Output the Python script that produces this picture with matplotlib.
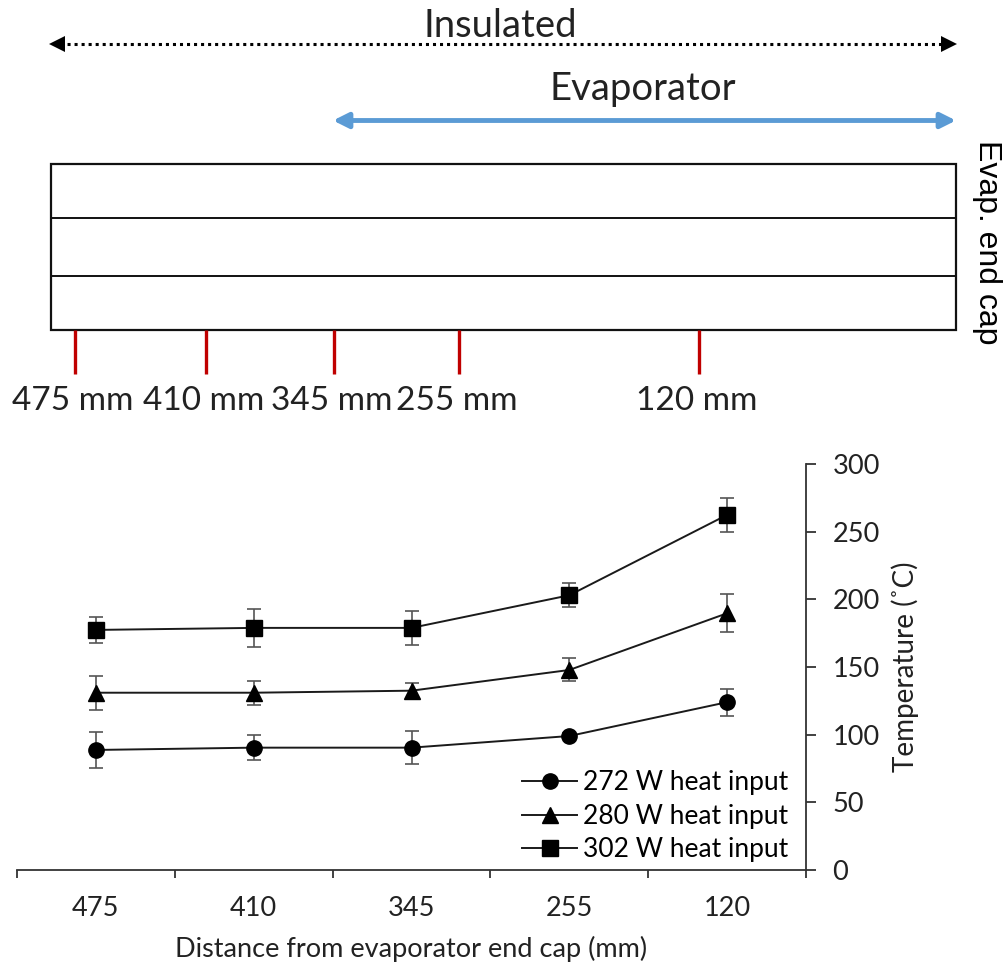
import numpy as np
import matplotlib.pyplot as plt
from matplotlib.patches import Rectangle

plt.rcParams['font.family'] = ['Lato', 'DejaVu Sans']

# temperature profile along the heat pipe (mean and spread per thermocouple)
distances = ['475', '410', '345', '255', '120']
temp_272 = [88.7, 90.4, 90.4, 99.0, 124.0]
err_272 = [13.0, 9.0, 12.0, 2.0, 10.0]
temp_280 = [131.0, 131.0, 132.5, 147.8, 189.7]
err_280 = [12.6, 9.0, 6.0, 8.5, 14.0]
temp_302 = [177.4, 178.9, 178.9, 203.0, 262.4]
err_302 = [9.6, 14.0, 12.5, 8.7, 12.5]

# schematic of the pipe: thermocouple labels and where they sit on the sketch
tc_labels = ['475 mm', '410 mm', '345 mm', '255 mm', '120 mm']
tc_pos = [75, 206, 334, 459, 699]

W, H = 1007, 969
fig = plt.figure(figsize=(W / 100, H / 100), dpi=100)

################################ schematic ################################
sk = fig.add_axes([0, 0, 1, 1])
sk.set_xlim(0, W) ; sk.set_ylim(H, 0) ; sk.axis('off')

pipe_l, pipe_r, pipe_t, pipe_b = 51, 956, 164, 330
sk.add_patch(Rectangle((pipe_l, pipe_t), pipe_r - pipe_l, pipe_b - pipe_t,
                       fill=False, ec='#111111', lw=1.6))
for yy in [218, 276]:
    sk.plot([pipe_l, pipe_r], [yy, yy], color='#111111', lw=1.4)

for xx, lab in zip(tc_pos, tc_labels):
    sk.plot([xx, xx], [pipe_b, 374], color='#c00000', lw=2.4, solid_capstyle='butt')
    sk.text(xx - 2, 410, lab, ha='center', va='baseline', fontsize=24, color='#222222')

# insulated length (dotted, black heads)
sk.plot([60, 946], [43.5, 43.5], color='black', lw=2.2, linestyle=(0, (1, 1.3)))
sk.plot([57], [43.5], marker='<', color='black', ms=11, mew=0)
sk.plot([949], [43.5], marker='>', color='black', ms=11, mew=0)
sk.text(500, 37, 'Insulated', ha='center', va='baseline', fontsize=27.5, color='#222222')

# evaporator length (blue)
sk.annotate('', xy=(956, 120.5), xytext=(333, 120.5),
            arrowprops=dict(arrowstyle='<|-|>,head_length=0.9,head_width=0.45',
                            color='#5b9bd5', lw=3.5, shrinkA=0, shrinkB=0))
sk.text(643, 100, 'Evaporator', ha='center', va='baseline', fontsize=27.5, color='#222222')

sk.text(987, 242, 'Evap. end cap', rotation=270, ha='center', va='center',
        fontsize=23, family='Liberation Sans', color='black')

################################ temperature chart ################################
ax = fig.add_axes([17 / W, (H - 870) / H, (806 - 17) / W, (870 - 464) / H])
x = np.arange(len(distances))

series = [(temp_272, err_272, 'o', 11, '272 W heat input'),
          (temp_280, err_280, '^', 12, '280 W heat input'),
          (temp_302, err_302, 's', 11, '302 W heat input')]
for vals, errs, mk, ms, lab in series:
    ax.errorbar(x, vals, yerr=errs, fmt='none', ecolor='#555555', elinewidth=1.2,
                capsize=5, capthick=1.2, zorder=2)
    ax.plot(x, vals, color='#1a1a1a', lw=1.4, marker=mk, ms=ms, mfc='black',
            mec='black', label=lab, zorder=3)

ax.set_xlim(-0.5, len(distances) - 0.5)
ax.set_ylim(0, 300)
ax.spines['top'].set_visible(False)
ax.spines['left'].set_visible(False)
for s in ['bottom', 'right']:
    ax.spines[s].set_color('#333333') ; ax.spines[s].set_linewidth(1.3)

ax.set_xticks(np.arange(-0.5, len(distances), 1.0))
ax.set_xticklabels([])
ax.set_xticks(x, minor=True)
ax.set_xticklabels(distances, minor=True)
ax.tick_params(axis='x', which='major', direction='out', length=6, width=1.3, color='#333333')
ax.tick_params(axis='x', which='minor', length=0, pad=19, labelsize=19.5, labelcolor='#222222')

ax.yaxis.tick_right()
ax.set_yticks(np.arange(0, 301, 50))
ax.tick_params(axis='y', direction='out', length=7, width=1.3, color='#333333',
               pad=12, labelsize=19.5, labelcolor='#222222')

ax.set_xlabel('Distance from evaporator end cap (mm)', fontsize=19.5, color='#222222')
ax.xaxis.set_label_coords(0.5, -0.163)
ax.yaxis.set_label_position('right')
ax.set_ylabel('Temperature (˚C)', fontsize=20, color='#222222')
ax.yaxis.set_label_coords(1.108, 0.5)

ax.legend(loc='lower right', bbox_to_anchor=(0.997, -0.02), frameon=False, fontsize=19,
          handlelength=2.1, handletextpad=0.2, labelspacing=0.32, borderaxespad=0.2)

fig.savefig('out.png', dpi=100)
